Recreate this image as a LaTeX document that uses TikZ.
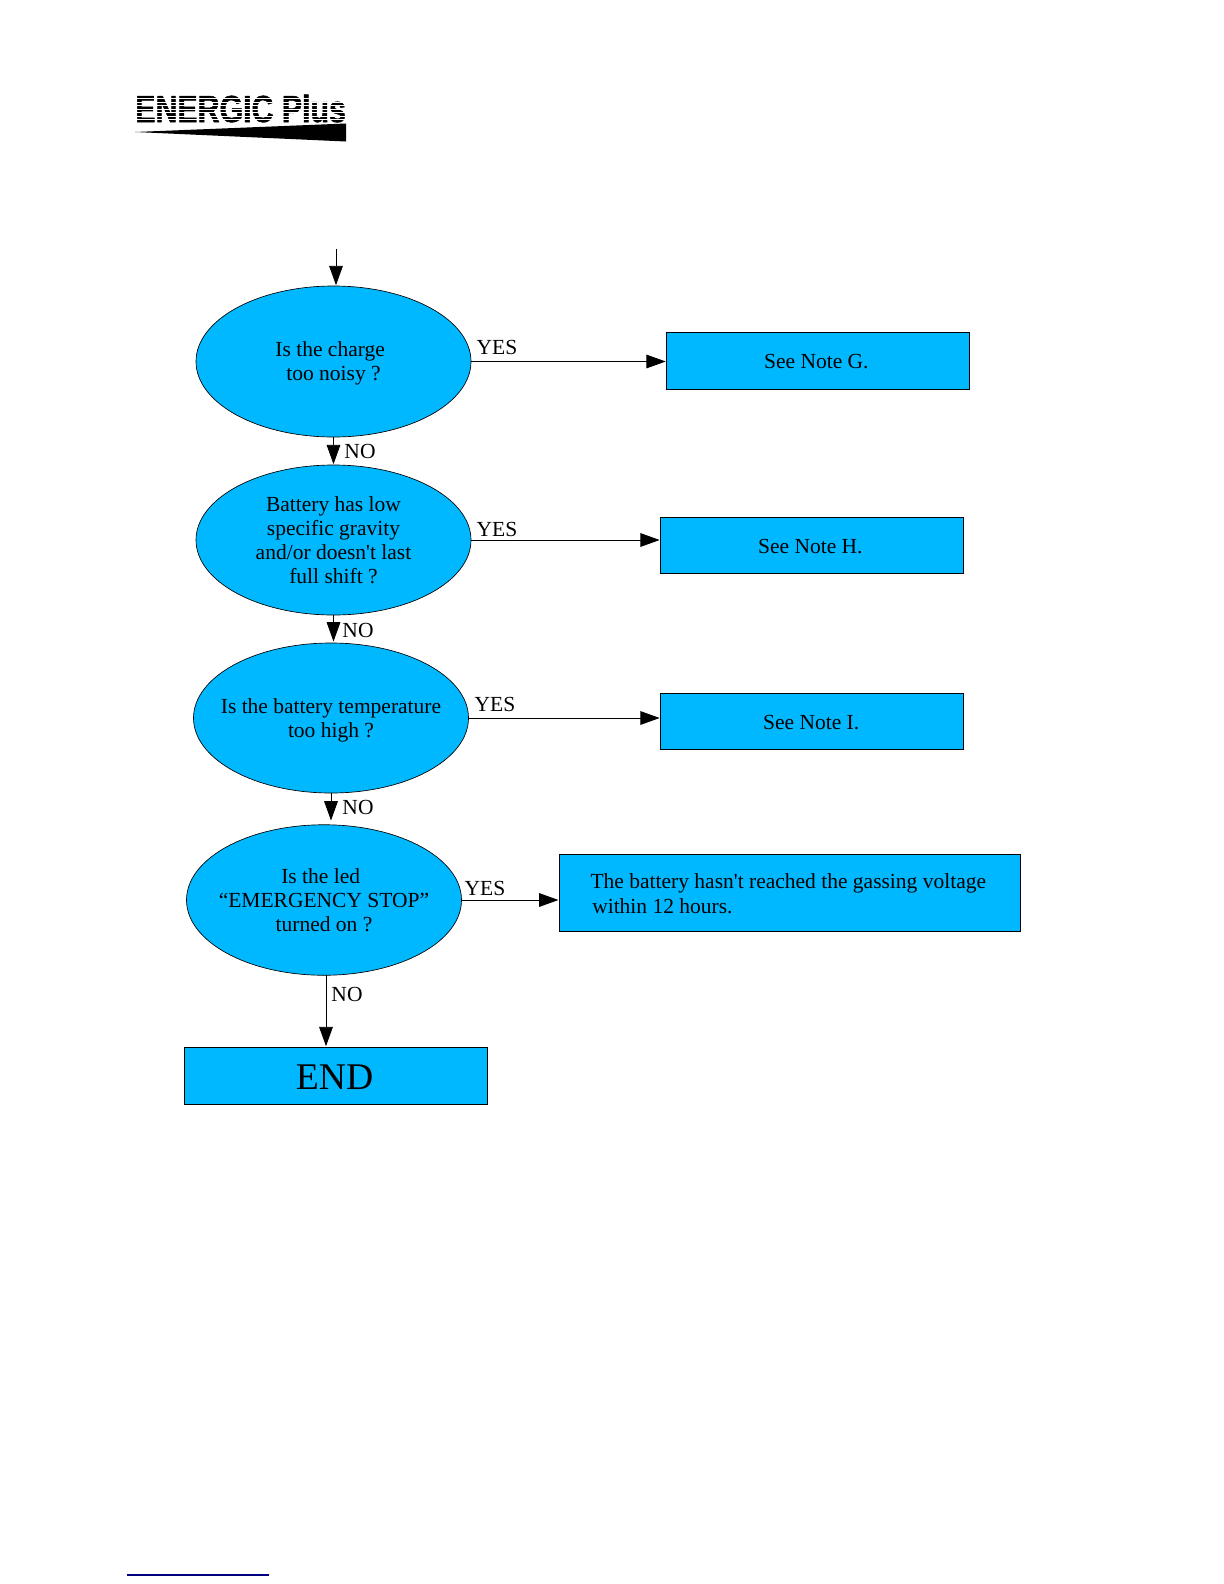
\documentclass[tikz,border=0pt]{standalone}
\usepackage{fontspec}
\newfontfamily\flowfont{Liberation Serif}
\newfontfamily\logofont{Liberation Sans}[BoldFeatures={FakeBold=1.5}]
\usetikzlibrary{shapes.geometric,arrows.meta}
\definecolor{flowblue}{HTML}{00B8FF}
\newcommand{\dropline}[1]{\raisebox{-0.7pt}[\height][\depth]{#1}}
\newcommand{\dropmore}[1]{\raisebox{-1.3pt}[\height][\depth]{#1}}
\tikzset{
  decision/.style={ellipse,draw=black,line width=0.4pt,fill=flowblue,inner sep=0pt,inner xsep=-20pt,align=center,font=\flowfont\fontsize{12.9}{14.5}\selectfont},
  notebox/.style={rectangle,draw=black,line width=0.4pt,fill=flowblue,inner sep=0pt,align=center,font=\flowfont\fontsize{12.9}{14.5}\selectfont},
  flow/.style={draw=black,line width=0.5pt,-{Triangle[length=11.6pt,width=8.2pt]},shorten >=0.3pt},
  lbl/.style={inner sep=0pt,font=\flowfont\fontsize{12.9}{14.5}\selectfont},
}
\begin{document}
\begin{tikzpicture}[x=0.6pt,y=-0.6pt]
\useasboundingbox (0,0) rectangle (1224,1584);
% logo
\node[inner sep=0pt,anchor=base west] (logo) at (135,122) {\logofont\bfseries\fontsize{22.6}{24}\selectfont\scalebox{0.805}[1]{ENERGIC Plus}};
\foreach \yy in {98,101.5,105,108.5,112,115.5,119}
  \fill[white] (130,\yy) rectangle (350,\yy+0.9);
\fill[black] (135,132) -- (346,123.5) -- (346,141.5) -- cycle;
% ellipses
\node[decision,minimum width=165pt,minimum height=90.6pt] (e1) at (333.5,361.5) {\dropmore{Is the charge}\hspace*{4pt}\\\dropmore{too noisy ?}\hspace*{0pt}};
\node[decision,minimum width=165pt,minimum height=90pt] (e2) at (333.5,540) {Battery has low\\specific gravity\\and/or doesn't last\\full shift ?};
\node[decision,minimum width=165pt,minimum height=90pt] (e3) at (331,718) {\dropmore{Is the battery temperature}\\\dropmore{too high ?}};
\node[decision,minimum width=165pt,minimum height=90.3pt] (e4) at (324,900) {Is the led\hspace*{4pt}\\“EMERGENCY STOP”\\turned on ?};
% boxes
\node[notebox,minimum width=181.8pt,minimum height=34.2pt] (g) at (818,360.5) {\dropline{See Note G.}\hspace*{2pt}};
\node[notebox,minimum width=181.8pt,minimum height=33.6pt] (h) at (812,545) {\dropline{See Note H.}\hspace*{2pt}};
\node[notebox,minimum width=181.8pt,minimum height=33.6pt] (i) at (812,721) {\dropline{See Note I.}\hspace*{1pt}};
\node[notebox,minimum width=276.9pt,minimum height=46.2pt,align=left] (k) at (790,892.5) {\dropline{The battery hasn't reached the gassing voltage}\hspace*{2pt}\\\hspace*{1pt}\dropline{within 12 hours.}};
\node[notebox,minimum width=181.8pt,minimum height=34.2pt,font=\flowfont\fontsize{22.6}{24}\selectfont] (end) at (335.5,1075.5) {\dropmore{END}\hspace*{1pt}};
% connectors
\coordinate (start) at (336,249);
\draw[flow] (start) -- (start |- e1.north);
\draw[flow] (e1.south) -- (e2.north);
\coordinate (a2) at (333.5,642);
\draw[flow] (e2.south) -- (a2);
\coordinate (a3s) at (331,793);
\coordinate (a3e) at (331,821);
\draw[flow] (a3s) -- (a3e);
\coordinate (a4s) at (326,975);
\draw[flow] (a4s) -- (a4s |- end.north);
\draw[flow] (e1.east) -- (e1.east -| g.west);
\draw[flow] (e2.east) -- (e2.east -| h.west);
\draw[flow] (e3.east) -- (e3.east -| i.west);
\draw[flow] (e4.east) -- (e4.east -| k.west);
% labels
\node[lbl] (y1) at (497,347.5) {YES};
\node[lbl] (y2) at (497,529.5) {YES};
\node[lbl] (y3) at (495,704.5) {YES};
\node[lbl] (y4) at (485,888.5) {YES};
\node[lbl] (n1) at (360,451.5) {NO};
\node[lbl] (n2) at (358,630) {NO};
\node[lbl] (n3) at (358,807) {NO};
\node[lbl] (n4) at (347,994) {NO};
% footer rule
\draw[draw=blue!50!black,line width=0.8pt] (127,1575) -- (269,1575);
\end{tikzpicture}
\end{document}
